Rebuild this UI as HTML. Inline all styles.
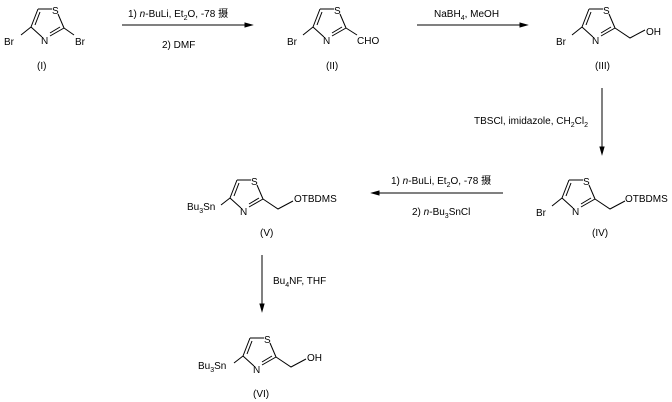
<!DOCTYPE html>
<html><head><meta charset="utf-8"><style>
body{margin:0;background:#fff;}
svg{display:block;font-family:"Liberation Sans","Noto Sans CJK SC",sans-serif;font-size:10px;}
</style></head><body>
<svg width="672" height="402" viewBox="0 0 672 402" xmlns="http://www.w3.org/2000/svg">
<defs>
<g id="ring" stroke="#000" stroke-width="1" fill="none">
<line x1="38" y1="9" x2="52" y2="9"/>
<line x1="58" y1="14" x2="64" y2="28"/>
<line x1="64" y1="28" x2="50" y2="36"/>
<line x1="60" y1="27" x2="50" y2="33"/>
<line x1="42" y1="37" x2="31" y2="27"/>
<line x1="31" y1="27" x2="38" y2="9"/>
<line x1="35" y1="25" x2="40" y2="12"/>
</g>
<g id="ringT" font-size="10">
<text x="52" y="14" fill="#000">S</text>
<text x="41" y="44" fill="#000">N</text>
</g>
</defs>
<g stroke="#000" fill="none">
<line x1="122" y1="25" x2="248" y2="25"/><polygon points="252,25 245,23 245,27" fill="#000"/>
<line x1="417" y1="25" x2="523" y2="25"/><polygon points="527,25 520,23 520,27" fill="#000"/>
<line x1="602" y1="88" x2="602" y2="150"/><polygon points="602,154 600,147 604,147" fill="#000"/>
<line x1="503" y1="193" x2="376" y2="193"/><polygon points="372,193 379,191 379,195" fill="#000"/>
<line x1="262" y1="255" x2="262" y2="307"/><polygon points="262,311 260,304 264,304" fill="#000"/>
</g>
<g><use href="#ring"/><use href="#ringT"/>
<line x1="31" y1="27" x2="21" y2="35" stroke="#000"/><text x="4" y="45">Br</text>
<line x1="64" y1="28" x2="74" y2="35" stroke="#000"/><text x="75" y="45">Br</text></g>
<text x="37" y="69">(I)</text>
<g transform="translate(282,0)"><use href="#ring"/><use href="#ringT"/>
<line x1="31" y1="27" x2="21" y2="35" stroke="#000"/><text x="5" y="45">Br</text>
<line x1="64" y1="28" x2="75" y2="35" stroke="#000"/><text x="75" y="44">CHO</text></g>
<text x="326" y="69">(II)</text>
<g transform="translate(551,0)"><use href="#ring"/><use href="#ringT"/>
<line x1="31" y1="27" x2="21" y2="35" stroke="#000"/><text x="5" y="45">Br</text>
<polyline points="64,28 79,38 94,30" stroke="#000" fill="none"/><text x="95" y="35">OH</text></g>
<text x="595" y="69">(III)</text>
<g transform="translate(531,171)"><use href="#ring"/><use href="#ringT"/>
<line x1="31" y1="27" x2="21" y2="35" stroke="#000"/><text x="5" y="45">Br</text>
<polyline points="64,28 79,38 94,30" stroke="#000" fill="none"/><text x="94" y="31">OTBDMS</text></g>
<text x="592" y="236">(IV)</text>
<g transform="translate(199,171)"><use href="#ring"/><use href="#ringT"/>
<line x1="31" y1="27" x2="22" y2="34" stroke="#000"/><text x="-12" y="39">Bu<tspan font-size="7" dy="3">3</tspan><tspan dy="-3">Sn</tspan></text>
<polyline points="64,28 79,38 94,30" stroke="#000" fill="none"/><text x="95" y="31">OTBDMS</text></g>
<text x="260" y="236">(V)</text>
<g transform="translate(212,329)"><use href="#ring"/><use href="#ringT"/>
<line x1="31" y1="27" x2="22" y2="34" stroke="#000"/><text x="-14" y="40">Bu<tspan font-size="7" dy="3">3</tspan><tspan dy="-3">Sn</tspan></text>
<polyline points="64,28 79,38 94,30" stroke="#000" fill="none"/><text x="95" y="32">OH</text></g>
<text x="253" y="397">(VI)</text>
<text x="128" y="17">1) <tspan font-style="italic">n</tspan>-BuLi, Et<tspan font-size="7" dy="3">2</tspan><tspan dy="-3">O, -78 摄</tspan></text>
<text x="162" y="48">2) DMF</text>
<text x="434" y="17">NaBH<tspan font-size="7" dy="3">4</tspan><tspan dy="-3">, MeOH</tspan></text>
<text x="474" y="124">TBSCl, imidazole, CH<tspan font-size="7" dy="3">2</tspan><tspan dy="-3">Cl</tspan><tspan font-size="7" dy="3">2</tspan></text>
<text x="391" y="184">1) <tspan font-style="italic">n</tspan>-BuLi, Et<tspan font-size="7" dy="3">2</tspan><tspan dy="-3">O, -78 摄</tspan></text>
<text x="412" y="215">2) <tspan font-style="italic">n</tspan>-Bu<tspan font-size="7" dy="3">3</tspan><tspan dy="-3">SnCl</tspan></text>
<text x="273" y="284">Bu<tspan font-size="7" dy="3">4</tspan><tspan dy="-3">NF, THF</tspan></text>
</svg>
</body></html>
